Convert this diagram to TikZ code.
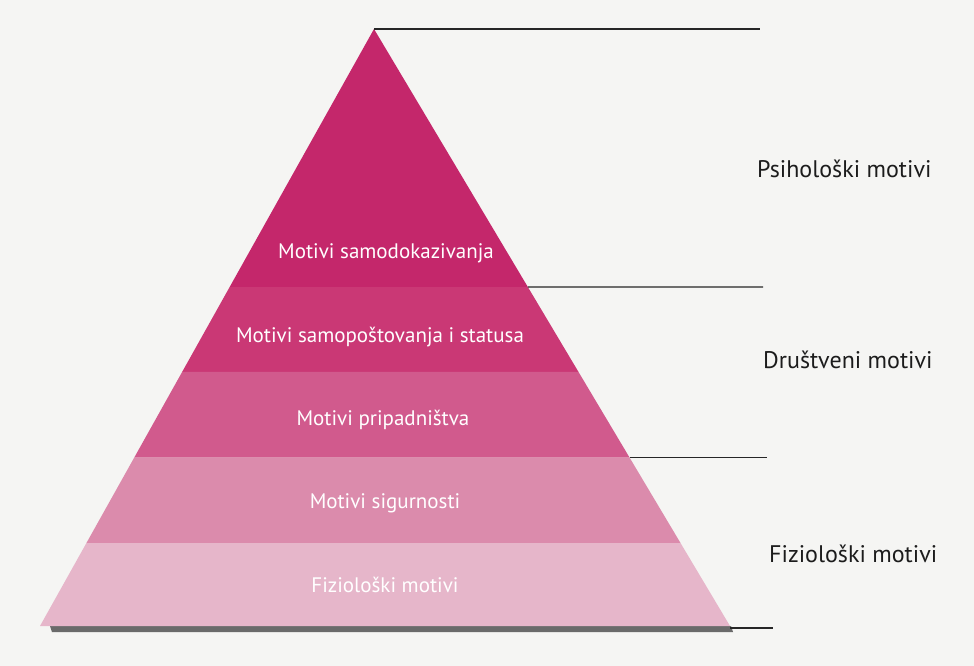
\documentclass[tikz,border=0pt]{standalone}
\usepackage{fontspec}
\setmainfont{PT Sans}
\usetikzlibrary{calc}
\definecolor{bgc}{HTML}{F5F5F3}
\definecolor{bandA}{HTML}{C4276B}
\definecolor{bandB}{HTML}{CA3875}
\definecolor{bandC}{HTML}{D15A8D}
\definecolor{bandD}{HTML}{DB8BAC}
\definecolor{bandE}{HTML}{E6B6CA}
\definecolor{inktxt}{HTML}{1C1C1C}
\definecolor{shadowc}{HTML}{6A6A6A}
\tikzset{
  inlabel/.style={text=white, font=\fontsize{21}{24}\selectfont, inner sep=0pt, anchor=base},
  sidelabel/.style={text=inktxt, font=\fontsize{24}{28}\selectfont, inner sep=0pt, anchor=base west},
  divider/.style={draw=black!85, line width=1.1pt},
}
\begin{document}
\begin{tikzpicture}[x=1pt,y=-1pt]
\fill[bgc] (0,0) rectangle (974,666);
\useasboundingbox (0,0) rectangle (974,666);
% vertices
\coordinate (apex) at (374,29);
\coordinate (bl) at (40,626);
\coordinate (br) at (730,626);
% band boundaries (fractions along edges)
\coordinate (l1) at ($(apex)!0.4322!(bl)$);
\coordinate (r1) at ($(apex)!0.4322!(br)$);
\coordinate (l2) at ($(apex)!0.5745!(bl)$);
\coordinate (r2) at ($(apex)!0.5745!(br)$);
\coordinate (l3) at ($(apex)!0.7181!(bl)$);
\coordinate (r3) at ($(apex)!0.7181!(br)$);
\coordinate (l4) at ($(apex)!0.8610!(bl)$);
\coordinate (r4) at ($(apex)!0.8610!(br)$);
% shadow under base
\fill[shadowc] (50,626) -- (731,626) -- (733,632) -- (52,632) -- cycle;
% bands
\fill[bandA] (apex) -- (r1) -- (l1) -- cycle;
\fill[bandB] (l1) -- (r1) -- (r2) -- (l2) -- cycle;
\fill[bandC] (l2) -- (r2) -- (r3) -- (l3) -- cycle;
\fill[bandD] (l3) -- (r3) -- (r4) -- (l4) -- cycle;
\fill[bandE] (l4) -- (r4) -- (br) -- (bl) -- cycle;
% inner labels
\node[inlabel] (t1) at (386,258) {Motivi samodokazivanja};
\node[inlabel] (t2) at (380,342) {Motivi samopoštovanja i statusa};
\node[inlabel] (t3) at (383,425) {Motivi pripadništva};
\node[inlabel] (t4) at (385,508) {Motivi sigurnosti};
\node[inlabel] (t5) at (385,592) {Fiziološki motivi};
% divider ends
\coordinate (e0) at (760,29);
\coordinate (e1) at (763,287);
\coordinate (e2) at (767,456);
\coordinate (e3) at (773,628);
\coordinate (s3) at (730,628);
\draw[divider] (apex) -- (e0);
\draw[divider] (r1) -- (e1);
\draw[divider] (r3) -- (e2 |- r3);
\draw[divider] (s3) -- (e3);
% side labels
\node[sidelabel] (p) at (757,177) {Psihološki motivi};
\node[sidelabel] (d) at (763,368) {Društveni motivi};
\node[sidelabel] (f) at (769,562) {Fiziološki motivi};
\end{tikzpicture}
\end{document}
